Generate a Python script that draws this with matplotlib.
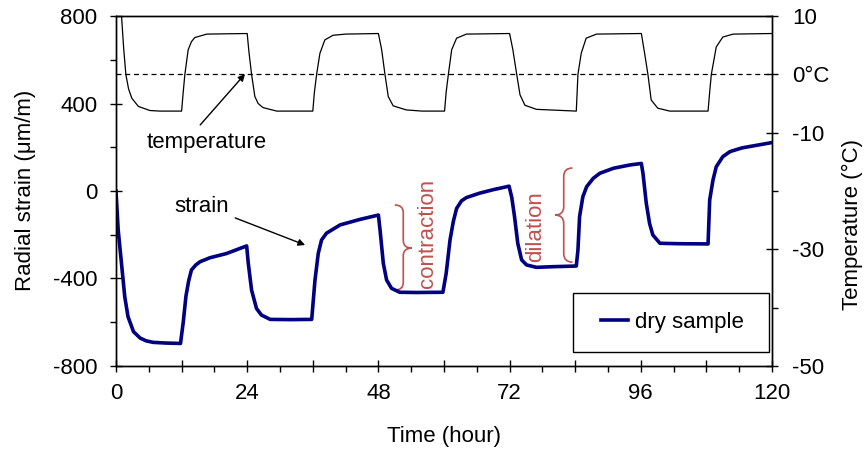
import matplotlib
matplotlib.use("Agg")
import matplotlib.pyplot as plt
from matplotlib.path import Path
from matplotlib.patches import PathPatch, Rectangle

plt.rcParams['font.family'] = ['Liberation Sans', 'DejaVu Sans']
plt.rcParams['font.size'] = 16
plt.rcParams['axes.unicode_minus'] = False

# strain readings (time in hours, radial strain in um/m)
strain_time = [0, 0.4, 1.0, 1.6, 2.2, 3.2, 4.4, 5.5, 6.8, 9.0, 11.8,
               12.3, 12.8, 13.3, 13.8, 14.6, 15.4, 17.2, 20.2, 23.9,
               24.2, 24.8, 25.7, 26.6, 28.2, 31.8, 35.8,
               36.4, 37.0, 37.6, 38.5, 41.0, 44.6, 48.0,
               48.3, 48.9, 49.5, 50.4, 51.9, 55.0, 59.8,
               60.4, 61.1, 61.7, 62.3, 63.2, 64.1, 66.5, 69.0, 71.9,
               72.4, 72.9, 73.5, 74.2, 75.1, 76.9, 80.0, 84.2,
               84.5, 84.8, 85.4, 86.1, 87.3, 88.5, 91.0, 94.0, 96.1,
               96.4, 97.0, 97.6, 98.2, 99.5, 103.0, 108.3,
               108.6, 109.2, 109.8, 111.0, 112.3, 114.5, 116.5, 119.9]
strain_value = [0, -178, -330, -483, -575, -643, -672, -685, -692, -695, -697,
                -600, -480, -410, -361, -338, -323, -305, -286, -251,
                -331, -453, -537, -567, -587, -588, -587,
                -407, -285, -224, -193, -155, -130, -110,
                -178, -331, -407, -445, -463, -464, -463,
                -376, -224, -140, -80, -45, -30, -10, 6, 22,
                -30, -117, -240, -315, -338, -349, -346, -343,
                -270, -117, -26, 20, 58, 81, 104, 119, 126,
                80, -56, -148, -201, -239, -241, -242,
                -41, 50, 111, 157, 180, 197, 206, 221]

# temperature readings (time in hours, degC)
temp_time = [0, 1.0, 1.4, 1.8, 2.3, 2.9, 4.1, 6.2, 8.0, 12.0,
             12.3, 12.6, 13.2, 13.8, 14.4, 16.6, 24.0,
             24.3, 24.8, 25.4, 26.0, 26.9, 29.4, 36.0,
             36.3, 36.7, 37.3, 38.2, 39.7, 42.0, 48.0,
             48.6, 49.2, 49.8, 50.7, 53.1, 56.0, 60.1,
             60.4, 60.8, 61.4, 62.3, 64.1, 72.0,
             72.6, 73.3, 73.9, 74.8, 76.9, 84.2,
             84.5, 85.1, 86.0, 87.9, 96.1,
             96.7, 97.3, 97.9, 99.1, 101.3, 108.3,
             108.6, 108.9, 109.8, 111.0, 112.9, 120.0]
temp_value = [22, 10.2, 4.5, 0, -2.5, -4.1, -5.5, -6.2, -6.3, -6.3,
              -3.0, 0, 4.2, 5.6, 6.3, 6.9, 7.0,
              4.0, 0, -3.8, -5.0, -5.7, -6.3, -6.3,
              -3.0, 0, 3.6, 5.9, 6.7, 6.9, 7.0,
              4.2, 0, -3.8, -5.4, -6.1, -6.3, -6.3,
              -3.0, 0, 4.2, 6.2, 6.9, 7.0,
              4.2, 0, -3.5, -5.3, -6.0, -6.3,
              0, 3.6, 6.2, 6.9, 7.0,
              3.6, 0, -4.4, -5.8, -6.3, -6.3,
              -3.0, 0, 4.7, 6.4, 6.9, 7.0]

x_ticks = [0, 12, 24, 36, 48, 60, 72, 84, 96, 108, 120]
x_labels = ['0', '', '24', '', '48', '', '72', '', '96', '', '120']
y_ticks = [-800, -400, 0, 400, 800]
t_ticks = [10, 0, -10, -30, -50]
t_labels = ['10', '0°C', '-10', '-30', '-50']

navy = '#000080'
red = '#C0504D'


def brace(ax, x_end, x_tip, y_bot, y_top, y_tip):
    # curly brace: ends at x_end, point at x_tip
    xm = (x_end + x_tip) / 2
    r = (y_top - y_bot) * 0.09
    verts = [(x_end, y_top), (xm, y_top), (xm, y_top - r),
             (xm, y_tip + r), (xm, y_tip), (x_tip, y_tip),
             (xm, y_tip), (xm, y_tip - r),
             (xm, y_bot + r), (xm, y_bot), (x_end, y_bot)]
    codes = [Path.MOVETO, Path.CURVE3, Path.CURVE3,
             Path.LINETO, Path.CURVE3, Path.CURVE3,
             Path.CURVE3, Path.CURVE3,
             Path.LINETO, Path.CURVE3, Path.CURVE3]
    ax.add_patch(PathPatch(Path(verts, codes), fill=False, edgecolor=red, lw=1.2))


fig = plt.figure(figsize=(8.65, 4.5), dpi=100)
ax = fig.add_axes([0.1341, 0.1867, 0.7584, 0.7777])
ax2 = ax.twinx()

ax.plot(strain_time, strain_value, color=navy, lw=2.6, label='dry sample', zorder=3)
ax2.plot(temp_time, temp_value, color='black', lw=0.9)
ax2.axhline(0, color='black', lw=0.9, ls=(0, (4, 3)))

ax.set_xlim(0, 120)
ax.set_ylim(-800, 800)
ax2.set_ylim(-50, 10)

ax.set_xticks(x_ticks)
ax.set_xticklabels(x_labels)
ax.set_xticks(range(6, 120, 12), minor=True)
ax.set_yticks(y_ticks)
ax.set_yticks([-600, -200, 200, 600], minor=True)
ax2.set_yticks(t_ticks)
ax2.set_yticklabels(t_labels)
ax2.set_yticks([-20, -40], minor=True)

ax.tick_params(which='major', direction='inout', length=9, width=1, pad=9)
ax.tick_params(which='minor', direction='out', length=4.5, width=1)
ax2.tick_params(which='major', direction='inout', length=9, width=1, pad=10)
ax2.tick_params(which='minor', direction='out', length=4.5, width=1)
ax.tick_params(axis='x', pad=8)

for a in (ax, ax2):
    for s in a.spines.values():
        s.set_linewidth(1)
        s.set_color('black')

fig.text(0.030, 0.578, 'Radial strain (μm/m)', rotation=90, ha='center', va='center')
fig.text(0.985, 0.5, 'Temperature (°C)', rotation=90, ha='center', va='center')
fig.text(0.513, 0.031, 'Time (hour)', ha='center', va='center')

# annotations
arrow = dict(arrowstyle='-|>', color='black', lw=1, mutation_scale=10,
             shrinkA=0, shrinkB=0)
ax.text(16.6, 224, 'temperature', ha='center', va='center')
ax.annotate('', xy=(23.6, 535), xytext=(15.4, 302), arrowprops=arrow)
ax.text(15.7, -73, 'strain', ha='center', va='center')
ax.annotate('', xy=(34.6, -247), xytext=(21.8, -123), arrowprops=arrow)
ax.text(57.0, -192, 'contraction', rotation=90, color=red, ha='center', va='center')
ax.text(76.8, -165, 'dilation', rotation=90, color=red, ha='center', va='center')
brace(ax, 51.0, 54.1, -453, -64, -261)
brace(ax, 83.5, 80.3, -325, 105, -110)

# legend with a drawn frame
ax.add_patch(Rectangle((0.697, 0.04), 0.298, 0.169, transform=ax.transAxes,
                       facecolor='white', edgecolor='black', lw=1, zorder=4))
leg = ax.legend(loc='center', bbox_to_anchor=(0.848, 0.1245), frameon=False,
                handlelength=1.25, handletextpad=0.3, borderpad=0)
leg.set_zorder(5)

fig.savefig('out.png', dpi=100)
